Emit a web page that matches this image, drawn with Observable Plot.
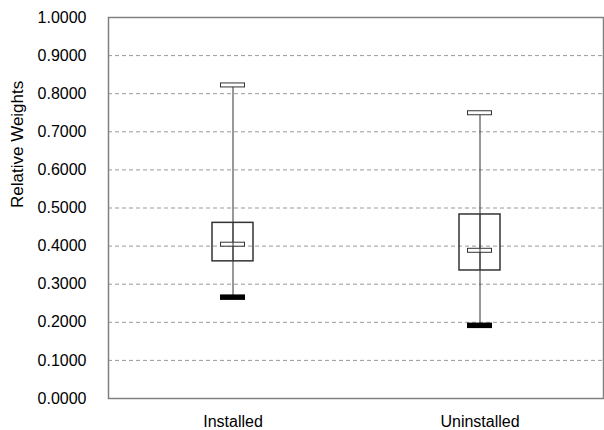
<!DOCTYPE html>
<html><head><meta charset="utf-8">
<script src="https://cdn.jsdelivr.net/npm/d3@7"></script>
<script src="https://cdn.jsdelivr.net/npm/@observablehq/plot@0.6"></script>
<style>body{margin:0;background:#fff}</style>
</head><body><div id="chart"></div>
<script>
const categories = ["Installed", "Uninstalled"];
const minVals = [0.266, 0.192];
const q1Vals = [0.360, 0.336];
const medVals = [0.405, 0.389];
const q3Vals = [0.461, 0.483];
const maxVals = [0.823, 0.750];
const yTicks = [0, 0.1, 0.2, 0.3, 0.4, 0.5, 0.6, 0.7, 0.8, 0.9, 1.0];
const gridTicks = [0.1, 0.2, 0.3, 0.4, 0.5, 0.6, 0.7, 0.8, 0.9];
const yLabel = "Relative Weights";

const rows = categories.map((c, i) => ({cat: c, min: minVals[i], q1: q1Vals[i], med: medVals[i], q3: q3Vals[i], max: maxVals[i]}));

const plot = Plot.plot({
  width: 604, height: 430,
  marginLeft: 108, marginRight: 1, marginTop: 17, marginBottom: 32,
  style: {fontFamily: "'Liberation Sans', Arial, sans-serif", fontSize: "16px", color: "#000", background: "#fff"},
  x: {type: "band", domain: categories, padding: 0},
  y: {domain: [0, 1]},
  marks: [
    Plot.ruleY(gridTicks, {stroke: "#999", strokeDasharray: "4,3", strokeWidth: 1}),
    Plot.frame({stroke: "#808080", strokeWidth: 1.5}),
    Plot.axisY({ticks: yTicks, tickFormat: d => d.toFixed(4), tickSize: 0, tickPadding: 22, fontSize: 16, label: null}),
    Plot.axisX({tickSize: 0, tickPadding: 17, fontSize: 16, label: null}),
    Plot.text([yLabel], {text: d => d, frameAnchor: "left", dx: -91, rotate: -90, fontSize: 17, fill: "#000"}),
    Plot.ruleX(rows, {x: "cat", y1: "min", y2: "max", stroke: "#333", strokeWidth: 1}),
    Plot.tickY(rows, {x: "cat", y: "max", stroke: "#333", strokeWidth: 5, insetLeft: 111, insetRight: 111}),
    Plot.tickY(rows, {x: "cat", y: "max", stroke: "#fff", strokeWidth: 3, insetLeft: 112, insetRight: 112}),
    Plot.tickY(rows, {x: "cat", y: "med", stroke: "#333", strokeWidth: 5, insetLeft: 111, insetRight: 111}),
    Plot.tickY(rows, {x: "cat", y: "med", stroke: "#fff", strokeWidth: 3, insetLeft: 112, insetRight: 112}),
    Plot.ruleX(rows, {x: "cat", y1: "q1", y2: "q3", stroke: "#333", strokeWidth: 1}),
    Plot.barY(rows, {x: "cat", y1: "q1", y2: "q3", fill: "none", stroke: "#333", strokeWidth: 1.5, insetLeft: 103, insetRight: 103}),
    Plot.tickY(rows, {x: "cat", y: "min", stroke: "#000", strokeWidth: 5.5, insetLeft: 111, insetRight: 111})
  ]
});
document.getElementById("chart").appendChild(plot);
</script></body></html>
